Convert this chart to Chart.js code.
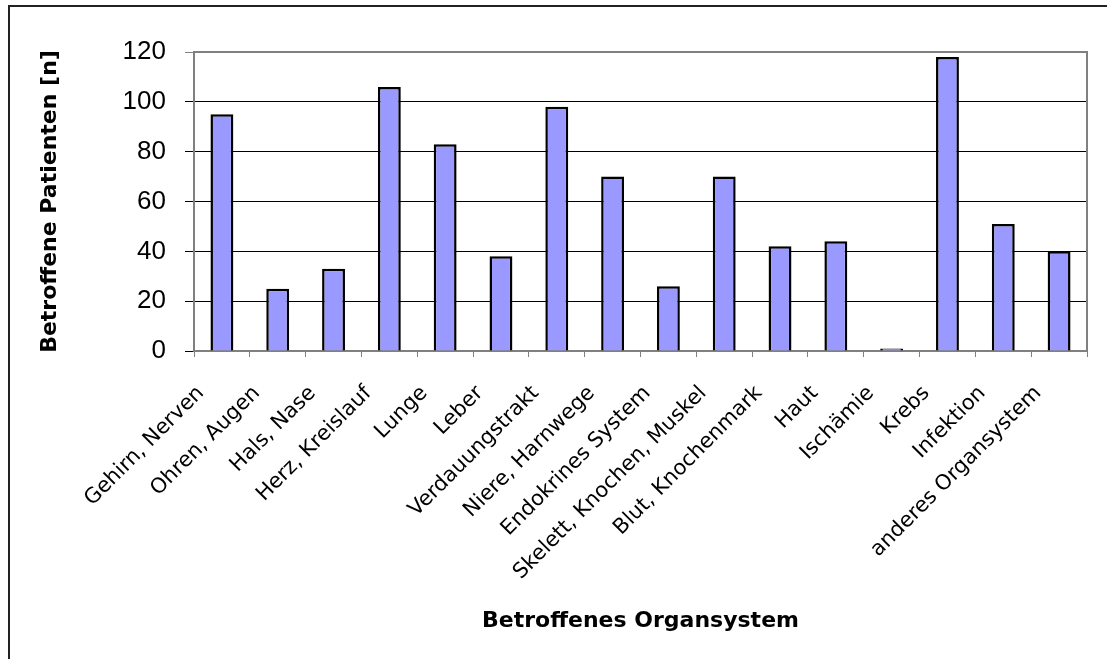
<!DOCTYPE html>
<html>
<head>
<meta charset="utf-8">
<script src="https://cdn.jsdelivr.net/npm/chart.js@4/dist/chart.umd.min.js"></script>
<style>
    html, body { margin: 0; padding: 0; background: #fff; }
    #wrap { width: 1107px; height: 659px; position: relative; }
</style>
</head>
<body>
<div id="wrap"><canvas id="organChart" width="1107" height="659"></canvas></div>
<script>
// Kategorien (Organsysteme)
const kategorien = [
    'Gehirn, Nerven', 'Ohren, Augen', 'Hals, Nase', 'Herz, Kreislauf', 'Lunge', 'Leber',
    'Verdauungstrakt', 'Niere, Harnwege', 'Endokrines System', 'Skelett, Knochen, Muskel',
    'Blut, Knochenmark', 'Haut', 'Ischämie', 'Krebs', 'Infektion', 'anderes Organsystem'
];
// Betroffene Patienten je Organsystem
const patienten = [95, 25, 33, 106, 83, 38, 98, 70, 26, 70, 42, 44, 1, 118, 51, 40];
// Y-Achse
const yMin = 0;
const yMax = 120;
const yStep = 20;

// Rahmen um Diagramm und Plotbereich
const rahmenPlugin = {
    id: 'rahmen',
    beforeDatasetsDraw(chart) {
        const a = chart.chartArea;
        const ctx = chart.ctx;
        ctx.save();
        ctx.strokeStyle = '#808080';
        ctx.lineWidth = 2;
        ctx.strokeRect(a.left, a.top, a.right - a.left, a.bottom - a.top);
        ctx.restore();
    },
    afterDraw(chart) {
        const ctx = chart.ctx;
        ctx.save();
        ctx.strokeStyle = '#222';
        ctx.lineWidth = 2;
        ctx.beginPath();
        ctx.moveTo(9, chart.height);
        ctx.lineTo(9, 6);
        ctx.lineTo(chart.width, 6);
        ctx.stroke();
        ctx.restore();
    }
};

const ctx = document.getElementById('organChart').getContext('2d');
new Chart(ctx, {
    type: 'bar',
    data: {
        labels: kategorien,
        datasets: [{
            label: 'Betroffene Patienten',
            data: patienten,
            backgroundColor: '#9999FF',
            borderColor: '#000000',
            borderWidth: 2.5,
            barPercentage: 0.41,
            categoryPercentage: 1.0
        }]
    },
    options: {
        responsive: false,
        animation: false,
        layout: { padding: { left: 30, top: 52, right: 20, bottom: 22 } },
        plugins: {
            legend: { display: false },
            tooltip: { enabled: false }
        },
        scales: {
            x: {
                grid: {
                    drawOnChartArea: false,
                    drawTicks: true,
                    tickLength: 6,
                    color: '#808080',
                    offset: true
                },
                border: { color: '#808080', width: 2 },
                ticks: {
                    color: '#000',
                    font: { family: 'DejaVu Sans', size: 21 },
                    minRotation: 45,
                    maxRotation: 45,
                    autoSkip: false,
                    padding: 24,
                    labelOffset: -21
                },
                title: {
                    display: true,
                    text: 'Betroffenes Organsystem',
                    color: '#000',
                    font: { family: 'DejaVu Sans', size: 22, weight: 'bold' },
                    padding: { top: 0, bottom: 3 }
                },
                afterFit(scale) { scale.height = 659 - 351 - 22; }
            },
            y: {
                min: yMin,
                max: yMax,
                grid: {
                    color: ctx => (ctx.tick && ctx.tick.value === yMax) ? '#808080' : '#000000',
                    lineWidth: 1,
                    tickLength: 9
                },
                border: { color: '#808080', width: 2 },
                ticks: {
                    stepSize: yStep,
                    color: '#000',
                    font: { family: 'Liberation Sans', size: 26 },
                    padding: 19
                },
                title: {
                    display: true,
                    text: 'Betroffene Patienten [n]',
                    color: '#000',
                    font: { family: 'DejaVu Sans', size: 22, weight: 'bold' },
                    padding: { top: 7, bottom: 0 }
                },
                afterFit(scale) { scale.width = 194 - 30; }
            }
        }
    },
    plugins: [rahmenPlugin]
});
</script>
</body>
</html>
